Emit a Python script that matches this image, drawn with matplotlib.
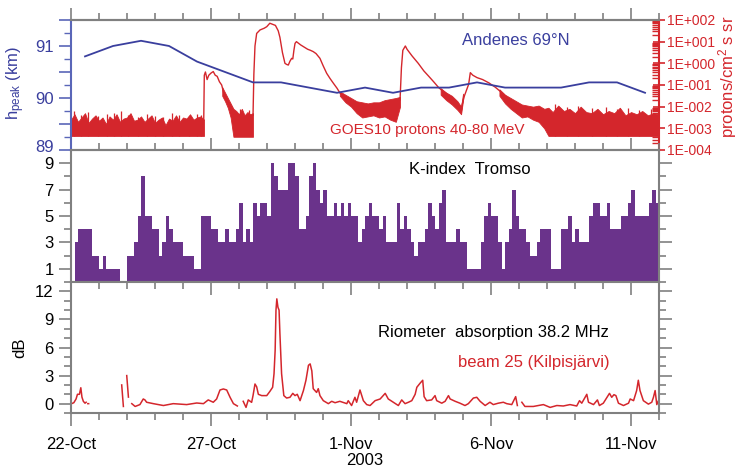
import numpy as np
import matplotlib
matplotlib.use('Agg')
import matplotlib.pyplot as plt
import matplotlib.transforms as mtransforms
from matplotlib.ticker import MultipleLocator, FixedLocator, LogLocator, FuncFormatter, NullFormatter

plt.rcParams['font.family'] = ['Liberation Sans', 'DejaVu Sans']
plt.rcParams['mathtext.default'] = 'regular'

# time axis: days since 22-Oct-2003 00:00
day_ticks = [0, 5, 10, 15, 20]
day_labels = ['22-Oct', '27-Oct', '1-Nov', '6-Nov', '11-Nov']

# Andenes peak height (km), daily
h_t = [0.5, 1.5, 2.5, 3.5, 4.5, 6.5, 7.5, 8.5, 9.5, 10.5, 11.5, 12.5, 13.5, 14.5,
       15.5, 16.5, 17.5, 18.5, 19.5, 20.5]
h_km = [90.8, 91.0, 91.1, 91.0, 90.7, 90.3, 90.3, 90.2, 90.1, 90.2, 90.1, 90.2, 90.2,
        90.3, 90.2, 90.2, 90.2, 90.3, 90.3, 90.1]

# GOES10 protons 40-80 MeV, log10 flux
# noisy parts as bands (time, upper, lower), quiet parts as lines
bg_t = [i * 0.125 for i in range(39)]
bg_hi = [-2.6, -2.35, -2.7, -2.5, -2.3, -2.75, -2.55, -2.4, -2.65, -2.5, -2.8, -2.45, -2.6,
         -2.35, -2.7, -2.55, -2.5, -2.3, -2.65, -2.6, -2.45, -2.7, -2.55, -2.4, -2.75, -2.6,
         -2.5, -2.85, -2.55, -2.65, -2.4, -2.7, -2.5, -2.55, -2.35, -2.6, -2.5, -2.45, -2.6]
bg_lo = [-3.35] * 39

b1_t = [5.4, 5.5, 5.6, 5.7, 5.8, 5.9, 6.0, 6.1, 6.2, 6.3, 6.4, 6.5]
b1_hi = [-1.1, -1.35, -1.6, -1.85, -2.1, -2.2, -2.35, -2.1, -2.4, -2.25, -2.35, -2.3]
b1_lo = [-1.5, -1.75, -2.05, -2.5, -3.39, -3.39, -3.39, -3.39, -3.39, -3.39, -3.39, -3.39]

b2_t = [9.6, 9.8, 10.0, 10.2, 10.4, 10.6, 10.8, 11.0, 11.2, 11.4, 11.6, 11.75]
b2_hi = [-1.3, -1.45, -1.6, -1.75, -1.8, -1.85, -1.8, -1.8, -1.7, -1.65, -1.6, -1.55]
b2_lo = [-1.5, -1.8, -2.0, -2.3, -2.5, -2.45, -2.4, -2.5, -2.45, -2.6, -2.7, -2.0]

b3_t = [13.2, 13.4, 13.6, 13.8, 13.93, 14.0]
b3_hi = [-1.15, -1.35, -1.5, -1.75, -2.0, -1.4]
b3_lo = [-1.45, -1.7, -1.9, -2.15, -2.35, -1.7]

b4_t = [15.3, 15.5, 15.7, 15.9, 16.1, 16.3, 16.5, 16.7, 16.9, 17.05, 17.2, 17.4, 17.6, 17.8,
        18.0, 18.2, 18.4, 18.6, 18.8, 19.0, 19.2, 19.4, 19.6, 19.8, 20.0, 20.2, 20.4, 20.6,
        20.8, 21.0]
b4_hi = [-1.2, -1.45, -1.6, -1.75, -1.9, -1.95, -2.0, -1.95, -2.1, -2.05, -2.25, -1.95, -2.2,
         -2.1, -2.3, -2.0, -2.25, -2.3, -2.1, -2.35, -2.2, -2.3, -2.05, -2.4, -2.25, -2.35,
         -2.2, -2.4, -2.3, -2.35]
b4_lo = [-1.5, -1.85, -2.1, -2.3, -2.5, -2.45, -2.6, -2.7, -3.0, -3.35, -3.35, -3.35, -3.35,
         -3.35, -3.35, -3.35, -3.35, -3.35, -3.35, -3.35, -3.35, -3.35, -3.35, -3.35, -3.35,
         -3.35, -3.35, -3.35, -3.35, -3.35]

# single tall noise spikes above the quiet background
spike_t = [0.1, 0.35, 0.6, 0.95, 1.3, 1.55, 1.8, 2.05, 2.4, 2.7, 3.0, 3.3, 3.6, 3.85, 4.2,
           4.5, 4.65, 6.05, 6.35, 17.3, 17.7, 18.1, 18.6, 19.1, 19.5, 19.9, 20.3, 20.7]
spike_hi = [-2.2, -2.4, -2.25, -2.45, -2.35, -2.3, -2.2, -2.4, -2.5, -2.35, -2.45, -2.5,
            -2.3, -2.4, -2.45, -2.35, -2.4, -2.1, -2.15, -1.9, -2.0, -1.95, -2.05,
            -2.0, -2.1, -2.05, -2.15, -2.1]
spike_lo = -3.35

e1_t = [4.74, 4.76, 4.8, 4.86, 4.92, 5.0, 5.08, 5.15, 5.22, 5.3, 5.38, 5.45, 5.52, 5.6, 5.68,
        5.75, 5.8]
e1_p = [-2.6, -0.55, -0.4, -0.75, -0.55, -0.45, -0.38, -0.55, -0.6, -0.85, -1.0, -1.35, -1.5,
        -1.75, -1.95, -2.2, -2.4]

e2_t = [6.5, 6.53, 6.57, 6.63, 6.75, 6.9, 6.99, 7.1, 7.2, 7.3, 7.4, 7.46, 7.55, 7.64, 7.7,
        7.76, 7.82, 7.88, 7.92, 7.96, 8.0, 8.05, 8.1, 8.2, 8.3, 8.45, 8.55, 8.65, 8.75, 8.89,
        9.0, 9.13, 9.25, 9.37, 9.5, 9.61, 9.8, 9.96, 10.15, 10.32]
e2_p = [-2.4, -0.5, 0.8, 1.38, 1.54, 1.62, 1.69, 1.85, 1.8, 1.75, 1.5, 1.2, 0.5, 0.0, -0.05,
        -0.08, 0.1, 0.23, 0.2, 0.6, 0.92, 1.0, 0.95, 0.85, 0.77, 0.65, 0.6, 0.54, 0.45, 0.23,
        -0.1, -0.46, -0.7, -0.92, -1.15, -1.38, -1.55, -1.69, -1.85, -2.0]

e3_t = [11.75, 11.8, 11.85, 11.94, 12.0, 12.18, 12.4, 12.6, 12.77, 12.95, 13.13, 13.35, 13.6,
        13.8, 13.9, 13.93, 13.97, 14.05, 14.2, 14.26, 14.35, 14.5, 14.7, 14.92, 15.15, 15.39,
        15.55, 15.69]
e3_p = [-1.7, -0.2, 0.6, 0.8, 0.65, 0.34, 0.0, -0.35, -0.59, -0.85, -1.12, -1.35, -1.59, -1.85,
        -2.0, -2.28, -1.9, -1.5, -0.97, -0.43, -0.55, -0.66, -0.75, -0.9, -1.1, -1.36, -1.55,
        -1.74]

# K-index Tromso, 3-hourly from 22-Oct 00 UT
k_index = [0, 3, 4, 4, 4, 4, 2, 2, 1, 2, 1, 1, 1, 1, 0, 0, 2, 2, 3, 5, 8, 5, 5, 4, 4, 2, 3, 5,
           4, 3, 3, 3, 2, 2, 2, 1, 1, 5, 5, 5, 4, 4, 3, 3, 4, 3, 3, 4, 6, 3, 4, 3, 6, 5, 6, 6,
           5, 9, 8, 7, 7, 7, 9, 9, 8, 4, 4, 5, 8, 9, 7, 6, 7, 5, 5, 6, 5, 6, 5, 6, 5, 5, 3, 4,
           5, 6, 5, 5, 4, 5, 3, 3, 3, 6, 4, 5, 4, 3, 2, 3, 3, 4, 6, 5, 4, 6, 7, 3, 3, 3, 4, 3,
           3, 1, 1, 1, 1, 3, 5, 6, 5, 5, 3, 1, 3, 4, 7, 5, 4, 4, 3, 2, 2, 3, 4, 4, 4, 1, 1, 1,
           4, 4, 5, 3, 4, 3, 3, 3, 5, 6, 6, 5, 5, 6, 4, 4, 4, 5, 5, 6, 7, 5, 5, 5, 5, 6, 7, 6]
k_t = [i * 0.125 for i in range(len(k_index))]

# riometer absorption, beam 25 (dB); nan = data gap
rio_t = [0.02, 0.1, 0.18, 0.23, 0.3, 0.35, 0.39, 0.44, 0.5, 0.54, 0.56, 0.6, 0.63, 0.64, 0.7,
         1.81, 1.87, 1.93, 1.99, 2.05, 2.1, 2.17, 2.29, 2.46, 2.58, 2.64, 2.7, 2.94, 3.3, 3.65,
         4.13, 4.49, 4.73, 4.9, 5.08, 5.2, 5.32, 5.44, 5.56, 5.68, 5.8, 5.94, 6.0,
         6.15, 6.25, 6.33, 6.45, 6.5, 6.57, 6.63, 6.69, 6.81, 6.99, 7.1, 7.2, 7.25, 7.29, 7.32,
         7.35, 7.39, 7.43, 7.46, 7.52, 7.6, 7.7, 7.82, 7.92, 8.0, 8.08, 8.18, 8.3, 8.39, 8.48,
         8.54, 8.6, 8.65, 8.77, 8.83, 8.89, 9.01, 9.19, 9.31, 9.43, 9.6, 9.85, 9.9, 10.02, 10.14,
         10.2, 10.32, 10.44, 10.56, 10.68, 10.86, 11.04, 11.22, 11.33, 11.51, 11.69, 11.81,
         11.93, 12.05, 12.17, 12.29, 12.35, 12.47, 12.56, 12.61, 12.7, 12.88, 13.0, 13.06,
         13.24, 13.36, 13.48, 13.54, 13.72, 13.89, 14.07, 14.19, 14.37, 14.49, 14.61, 14.79,
         14.96, 15.08, 15.26, 15.44, 15.56, 15.74, 15.88, 15.94, 16.0, 16.1, 16.21, 16.51,
         16.87, 17.11, 17.35, 17.58, 17.82, 18.06, 18.16, 18.24, 18.42, 18.48, 18.66, 18.8,
         18.87, 19.01, 19.23, 19.31, 19.39, 19.46, 19.55, 19.73, 19.91, 19.97, 20.09, 20.2,
         20.26, 20.32, 20.44, 20.62, 20.74, 20.8, 20.86, 20.92, 20.98]
rio_db = [0.0, 0.1, 0.5, 1.0, 1.0, 1.7, 0.7, 0.25, 0.05, 0.15, np.nan, 0.0, 0.0, np.nan, np.nan,
          2.0, -0.3, np.nan, 3.0, 0.7, np.nan, 0.0, -0.3, -0.1, 0.5, 0.4, 0.15, 0.0, -0.2, 0.0,
          -0.1, 0.07, 0.0, 0.4, 0.15, 0.5, 1.46, 1.57, 1.46, 0.68, 0.0, -0.25, np.nan,
          0.25, -0.4, 0.4, 0.14, 0.86, 2.1, 1.8, 1.0, 0.86, 0.86, 1.3, 1.75, 3.2, 5.7, 10.0,
          11.2, 10.3, 10.0, 7.5, 3.2, 0.86, 0.6, 0.68, 1.1, 0.86, 1.0, 0.32, 1.4, 2.5, 4.1,
          4.25, 3.5, 1.6, 1.2, 1.6, 0.86, 0.32, 0.0, 0.25, 0.1, 0.25, 0.0, 0.32, -0.2, 0.68,
          0.15, 1.46, 0.32, -0.1, -0.2, 0.32, 0.5, 1.1, 0.5, 0.15, -0.2, 0.4,
          0.0, 0.15, 0.32, 1.0, 1.75, 2.2, 2.5, 0.75, 0.32, 0.4, 0.86, 0.32,
          0.05, 0.25, 0.86, 0.5, 0.25, 0.05, -0.2, 0.0, 0.6, 0.68, 0.25, -0.2,
          0.15, -0.1, 0.05, 0.15, 0.0, -0.1, 0.75, -0.2, np.nan, 0.15, -0.3, -0.3,
          -0.1, -0.4, -0.2, -0.25, -0.1, -0.25, 0.32, 0.05, 1.0, 0.15, -0.1, 0.4,
          -0.2, 0.05, 1.1, 0.68, 0.96, 0.86, 0.05, -0.2, 0.05, 0.5, 0.32, 1.4,
          2.5, 1.4, 0.32, -0.05, 0.15, 0.68, 1.4, -0.1, 0.32]

BLUE = '#3a3f9e'
BLUE_AX = '#5a66b8'
RED = '#d4262c'
PURPLE = '#6a338b'
GRAY = '#808080'

fig = plt.figure(figsize=(7.39, 4.68), dpi=100)
ax1 = fig.add_axes([0.0961, 0.6795, 0.7957, 0.2778])
ax2 = fig.add_axes([0.0961, 0.3974, 0.7957, 0.2821])
ax3 = fig.add_axes([0.0961, 0.1175, 0.7957, 0.2799])

for ax in (ax1, ax2, ax3):
    ax.set_xlim(0, 21)
    for s in ax.spines.values():
        s.set_color(GRAY)
        s.set_linewidth(1.5)

# ---- top panel ----
ax1r = ax1.twinx()
ax1r.set_yscale('log')
ax1r.set_ylim(1e-4, 1e2)
for bt, bh, bl in [(bg_t, bg_hi, bg_lo), (b1_t, b1_hi, b1_lo), (b2_t, b2_hi, b2_lo),
                   (b3_t, b3_hi, b3_lo), (b4_t, b4_hi, b4_lo)]:
    ax1r.fill_between(bt, 10 ** np.array(bl), 10 ** np.array(bh), color=RED, lw=0.6)
ax1r.vlines(spike_t, 10 ** spike_lo, 10 ** np.array(spike_hi), color=RED, lw=0.9)
for et, ep in [(e1_t, e1_p), (e2_t, e2_p), (e3_t, e3_p)]:
    ax1r.plot(et, 10 ** np.array(ep), color=RED, lw=1.0)
ax1r.yaxis.set_major_locator(LogLocator(base=10, numticks=10))
ax1r.yaxis.set_major_formatter(FuncFormatter(lambda v, p: '1E%+04d' % round(np.log10(v))))
ax1r.yaxis.set_minor_locator(LogLocator(base=10, subs=range(2, 10), numticks=20))
ax1r.yaxis.set_minor_formatter(NullFormatter())
ax1r.tick_params(axis='y', which='major', direction='inout', length=9, width=1.2,
                 color=RED, labelcolor=RED, labelsize=10, pad=1)
ax1r.tick_params(axis='y', which='minor', direction='in', length=5, width=1.0, color=RED)
ax1r.spines['right'].set_color(RED)
ax1r.spines['right'].set_linewidth(1.5)
for s in ('left', 'top', 'bottom'):
    ax1r.spines[s].set_visible(False)

ax1.set_zorder(ax1r.get_zorder() + 1)
ax1.patch.set_visible(False)
ax1.plot(h_t, h_km, color=BLUE, lw=1.3)
ax1.set_ylim(89, 91.5)
ax1.yaxis.set_major_locator(FixedLocator([89, 89.5, 90, 90.5, 91, 91.5]))
ax1.set_yticklabels(['89', '', '90', '', '91', ''])
ax1.yaxis.set_minor_locator(MultipleLocator(0.25))
ax1.tick_params(axis='y', which='major', direction='out', length=9, width=1.2,
                color=BLUE_AX, labelcolor=BLUE, labelsize=12)
ax1.tick_params(axis='y', which='minor', direction='out', length=5, width=1.0, color=BLUE_AX)
# lift the lowest label a little so it clears the "9" of the panel below
lbl89 = ax1.get_yticklabels()[0]
lbl89.set_transform(lbl89.get_transform() +
                    mtransforms.ScaledTranslation(0, 3 / 72, fig.dpi_scale_trans))
ax1.spines['left'].set_color(BLUE_AX)
ax1.spines['right'].set_visible(False)
ax1.set_xticks(day_ticks)
ax1.xaxis.set_minor_locator(MultipleLocator(1))
ax1.tick_params(axis='x', which='both', direction='in', labelbottom=False, color=GRAY, width=1.2)
ax1.tick_params(axis='x', which='major', length=9)
ax1.tick_params(axis='x', which='minor', length=5)
top1 = ax1.secondary_xaxis('top')
top1.set_xticks(day_ticks)
top1.xaxis.set_minor_locator(MultipleLocator(1))
top1.tick_params(axis='x', which='both', direction='out', labeltop=False, color=GRAY, width=1.2)
top1.tick_params(axis='x', which='major', length=9)
top1.tick_params(axis='x', which='minor', length=5)
top1.spines['top'].set_color(GRAY)
top1.spines['top'].set_linewidth(1.5)

ax1.text(0.757, 0.846, 'Andenes 69°N', transform=ax1.transAxes, color=BLUE,
         fontsize=12, ha='center', va='center')
ax1.text(0.605, 0.154, 'GOES10 protons 40-80 MeV', transform=ax1.transAxes, color=RED,
         fontsize=11, ha='center', va='center')

# ---- middle panel ----
ax2.bar(k_t, k_index, width=0.125, align='edge', color=PURPLE, linewidth=0)
ax2.set_ylim(0, 10)
ax2.yaxis.set_major_locator(FixedLocator([1, 3, 5, 7, 9]))
ax2.yaxis.set_minor_locator(FixedLocator([2, 4, 6, 8]))
ax2.tick_params(axis='y', which='both', direction='out', left=True, right=True,
                color=GRAY, width=1.2, labelsize=12)
ax2.tick_params(axis='y', which='major', length=9)
ax2.tick_params(axis='y', which='minor', length=5)
ax2.set_xticks([])
ax2.text(0.679, 0.856, 'K-index  Tromso', transform=ax2.transAxes, fontsize=12,
         ha='center', va='center')

# ---- bottom panel ----
ax3.plot(rio_t, rio_db, color=RED, lw=1.1)
ax3.set_ylim(-1, 13)
ax3.yaxis.set_major_locator(FixedLocator([0, 3, 6, 9, 12]))
ax3.yaxis.set_minor_locator(MultipleLocator(1))
ax3.tick_params(axis='y', which='both', direction='out', left=True, right=True,
                color=GRAY, width=1.2, labelsize=12)
ax3.tick_params(axis='y', which='major', length=9)
ax3.tick_params(axis='y', which='minor', length=5)
ax3.set_xticks(day_ticks)
ax3.set_xticklabels(day_labels)
ax3.xaxis.set_minor_locator(MultipleLocator(1))
ax3.tick_params(axis='x', which='both', direction='out', color=GRAY, width=1.2, labelsize=12)
ax3.tick_params(axis='x', which='major', length=9, pad=8)
ax3.tick_params(axis='x', which='minor', length=5)
top3 = ax3.secondary_xaxis('top')
top3.set_xticks(day_ticks)
top3.xaxis.set_minor_locator(MultipleLocator(1))
top3.tick_params(axis='x', which='both', direction='in', labeltop=False, color=GRAY, width=1.2)
top3.tick_params(axis='x', which='major', length=9)
top3.tick_params(axis='x', which='minor', length=5)
top3.spines['top'].set_visible(False)
ax3.text(0.719, 0.618, 'Riometer  absorption 38.2 MHz', transform=ax3.transAxes, fontsize=12,
         ha='center', va='center')
ax3.text(0.787, 0.389, 'beam 25 (Kilpisjärvi)', transform=ax3.transAxes, fontsize=12,
         color=RED, ha='center', va='center')

fig.text(0.021, 0.823, 'h$_{peak}$ (km)', rotation=90, color=BLUE, fontsize=12,
         ha='center', va='center')
fig.text(0.984, 0.835, 'protons/cm$^2$ s sr', rotation=90, color=RED, fontsize=12,
         ha='center', va='center')
fig.text(0.027, 0.256, 'dB', rotation=90, fontsize=12, ha='center', va='center')
fig.text(0.493, 0.017, '2003', fontsize=12, ha='center', va='center')

fig.savefig('out.png', dpi=100)
